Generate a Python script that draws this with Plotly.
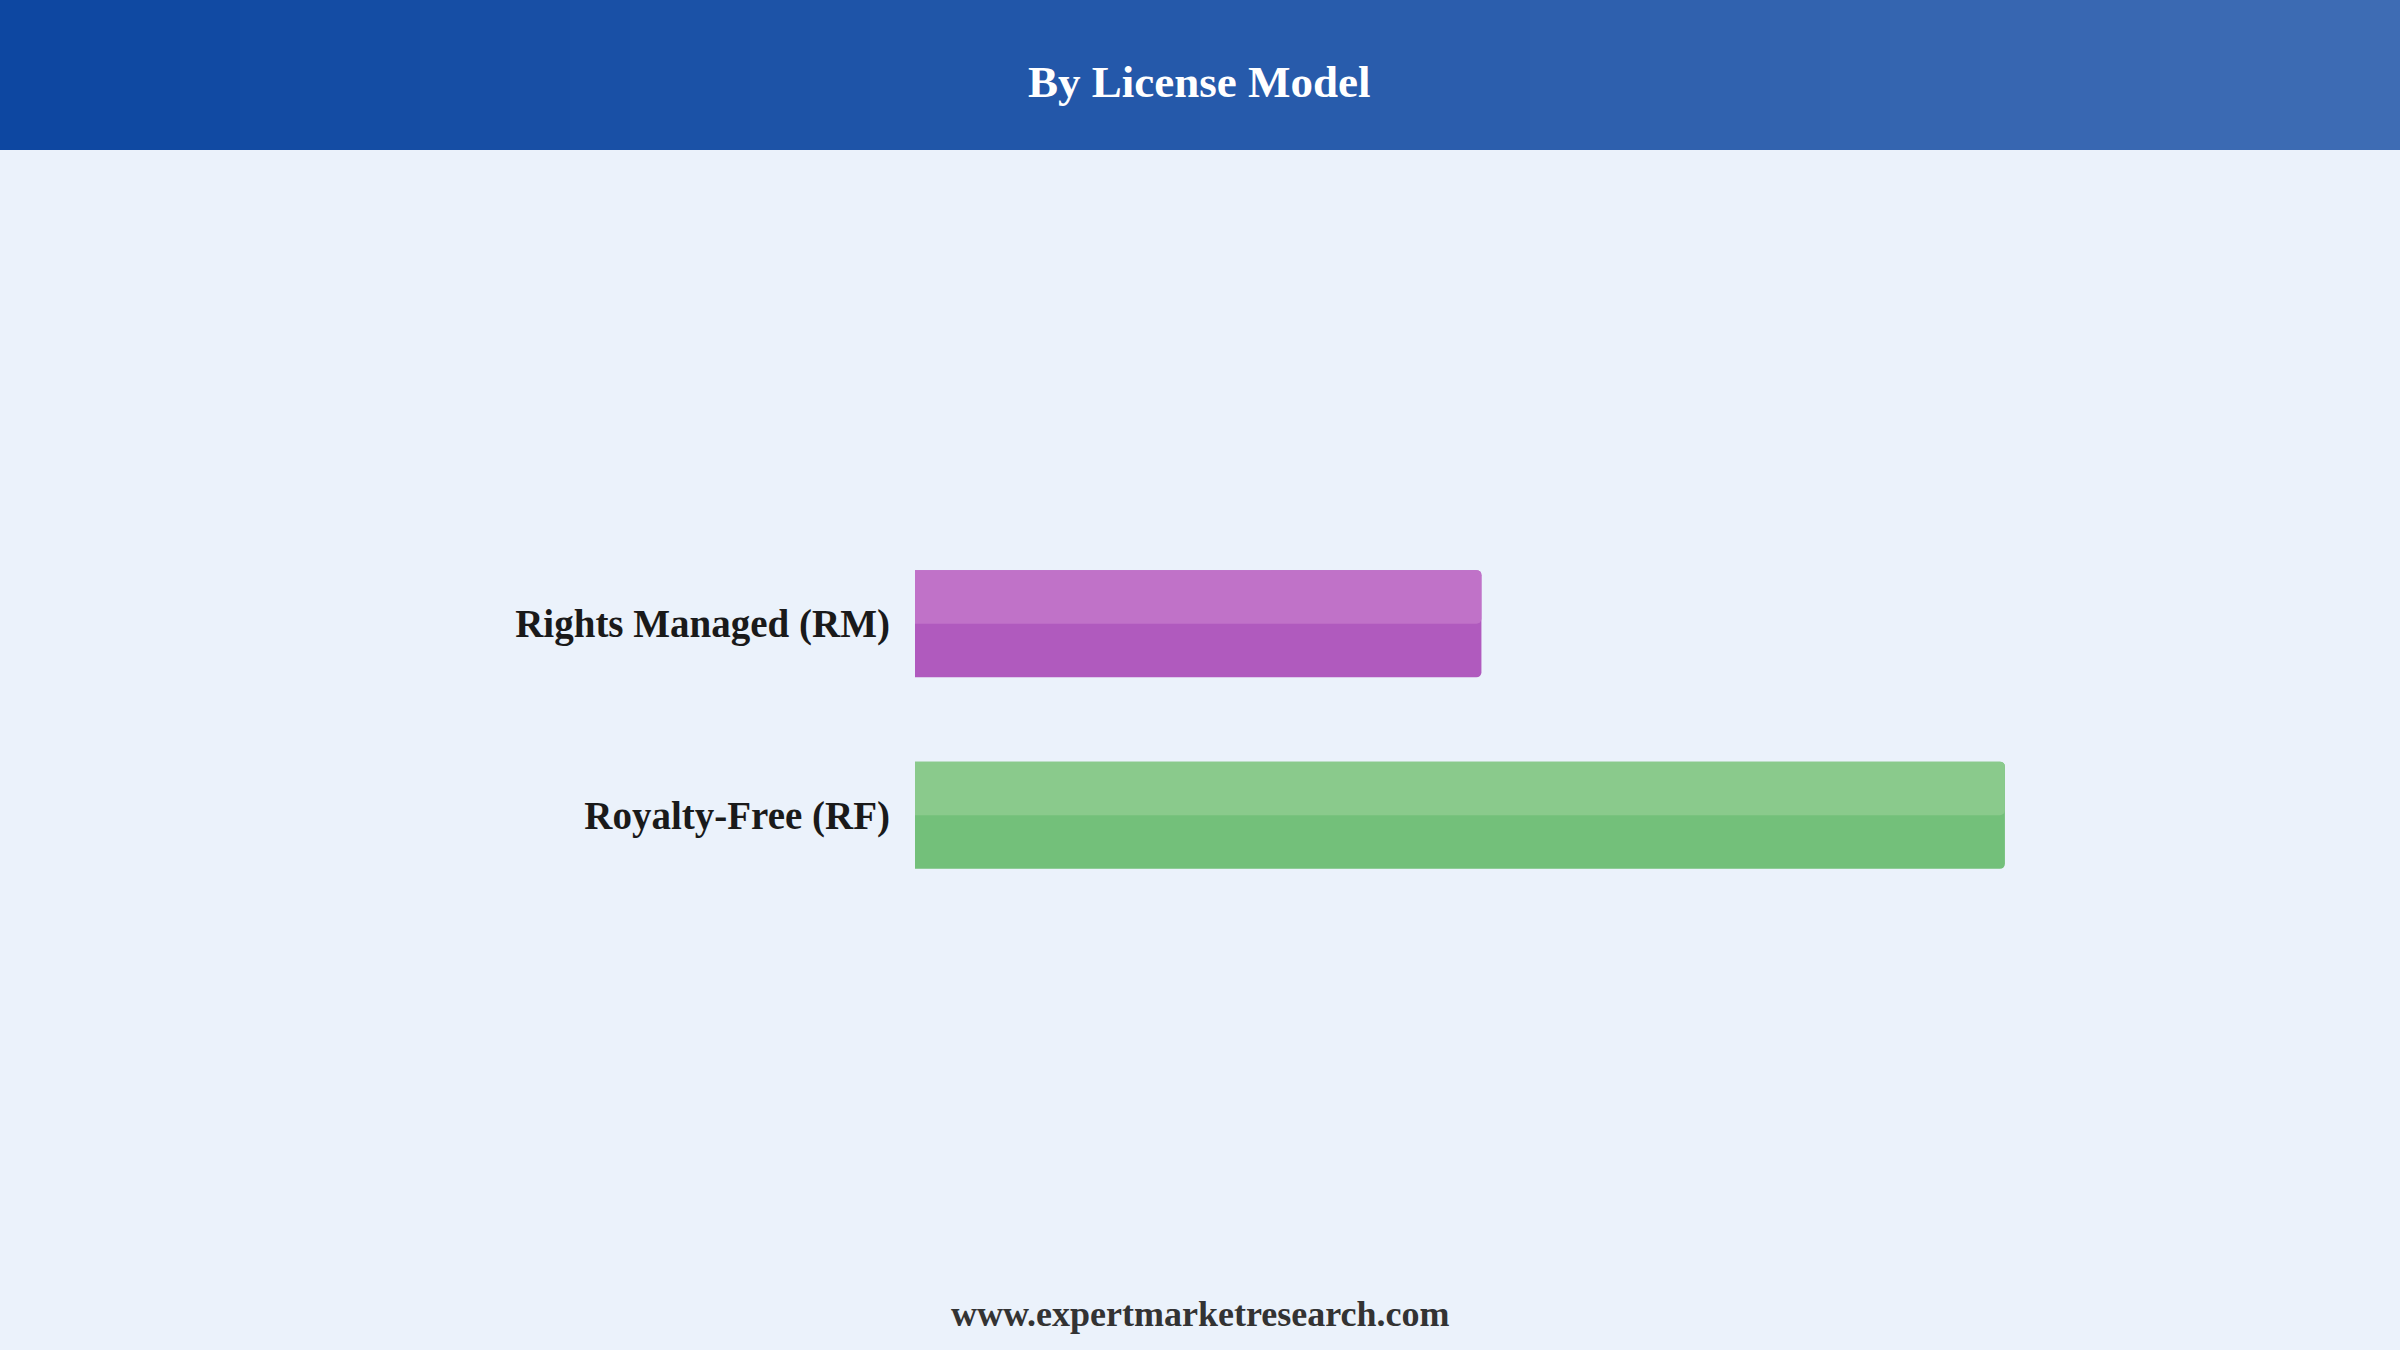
import plotly.graph_objects as go

# ---- data ----
categories = ["Royalty-Free (RF)", "Rights Managed (RM)"]
values = [66, 34.3]
base_colors = ["#73C07A", "#B05ABE"]
top_colors = ["#8ACA8C", "#C072C8"]
title_text = "By License Model"
footer_text = "www.expertmarketresearch.com"

W, H = 2400, 1350
SERIF = "Liberation Serif, Times New Roman, serif"

# plot area in pixels
px_left, px_right = 915, 2104
px_top, px_bottom = 528, 911

fig = go.Figure()
fig.add_trace(go.Bar(
    y=categories, x=values, orientation="h",
    marker=dict(color=base_colors, line=dict(width=0), cornerradius=5),
    width=0.56, hoverinfo="skip", showlegend=False,
))
fig.add_trace(go.Bar(
    y=categories, x=values, orientation="h",
    marker=dict(color=top_colors, line=dict(width=0), cornerradius=5),
    width=0.28, offset=0, hoverinfo="skip", showlegend=False,
))

# header gradient strips
shapes = []
n = 80
c0 = (13, 71, 161)
c1 = (62, 108, 180)
for i in range(n):
    t = i / (n - 1)
    col = tuple(round(c0[k] + (c1[k] - c0[k]) * t) for k in range(3))
    shapes.append(dict(
        type="rect", xref="paper", yref="paper",
        x0=i / n, x1=(i + 1) / n + 0.001,
        y0=1 - 150 / H, y1=1,
        fillcolor="rgb(%d,%d,%d)" % col, line=dict(width=0), layer="below",
    ))

fig.update_layout(
    width=W, height=H,
    margin=dict(l=0, r=0, t=0, b=0),
    paper_bgcolor="#EBF2FB", plot_bgcolor="#EBF2FB",
    barmode="overlay",
    shapes=shapes,
    xaxis=dict(domain=[px_left / W, px_right / W], range=[0, 72],
               visible=False, fixedrange=True),
    yaxis=dict(domain=[1 - px_bottom / H, 1 - px_top / H],
               categoryorder="array", categoryarray=categories,
               showgrid=False, zeroline=False, showline=False,
               ticks="", ticklabelstandoff=24, automargin=False,
               tickfont=dict(family=SERIF, size=39, color="#1a1a1a", weight="bold")),
    annotations=[
        dict(text=title_text, xref="paper", yref="paper", x=0.4995, y=1 - 82 / H,
             xanchor="center", yanchor="middle", showarrow=False,
             font=dict(family=SERIF, size=45, color="white", weight="bold")),
        dict(text=footer_text, xref="paper", yref="paper", x=0.5, y=1 - 1314 / H,
             xanchor="center", yanchor="middle", showarrow=False,
             font=dict(family=SERIF, size=36, color="#333333", weight="bold")),
    ],
)

fig.write_html("out.html", config={"displayModeBar": False},
               post_script="document.body.style.margin='0';document.body.style.background='#EBF2FB';")
